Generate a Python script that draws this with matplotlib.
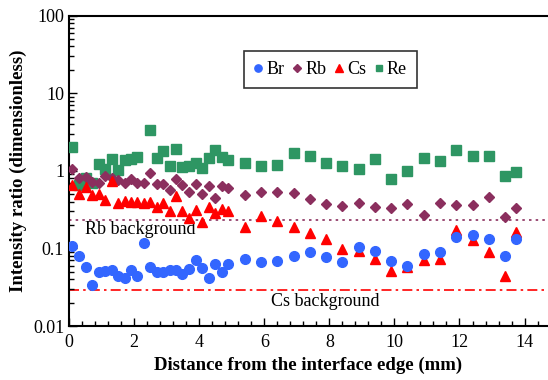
import matplotlib
matplotlib.use("Agg")
import matplotlib.pyplot as plt
from matplotlib.ticker import MultipleLocator, LogLocator, FixedLocator, FixedFormatter

plt.rcParams['font.family'] = ['Liberation Serif', 'DejaVu Serif']

# Distances (mm)
x_main = [0.1, 0.31, 0.51, 0.72, 0.92, 1.1, 1.31, 1.51, 1.72, 1.9, 2.1, 2.31, 2.48, 2.69, 2.89,
          3.1, 3.29, 3.48, 3.69, 3.9, 4.1, 4.3, 4.5, 4.7, 4.9,
          5.4, 5.9, 6.4, 6.9, 7.4, 7.9, 8.4, 8.9, 9.4, 9.9, 10.4, 10.9, 11.4, 11.9, 12.4, 12.9, 13.4, 13.75]
x_re = [0.1, 0.31, 0.51, 0.72, 0.92, 1.1, 1.31, 1.51, 1.72, 1.9, 2.1, 2.48, 2.69, 2.89,
        3.1, 3.29, 3.48, 3.69, 3.9, 4.1, 4.3, 4.5, 4.7, 4.9,
        5.4, 5.9, 6.4, 6.9, 7.4, 7.9, 8.4, 8.9, 9.4, 9.9, 10.4, 10.9, 11.4, 11.9, 12.4, 12.9, 13.4, 13.75]

br = [0.108, 0.080, 0.058, 0.034, 0.050, 0.051, 0.053, 0.0435, 0.042, 0.052, 0.044, 0.117, 0.058, 0.049, 0.049,
      0.053, 0.053, 0.0475, 0.054, 0.071, 0.056, 0.042, 0.063, 0.050, 0.063,
      0.074, 0.067, 0.068, 0.080, 0.091, 0.077, 0.066, 0.105, 0.093, 0.069, 0.060, 0.086, 0.091, 0.142, 0.150, 0.132, 0.079, 0.132]
rb = [1.06, 0.80, 0.82, 0.72, 0.69, 0.85, 0.80, 0.76, 0.69, 0.78, 0.69, 0.69, 0.94, 0.67, 0.68,
      0.57, 0.78, 0.66, 0.53, 0.67, 0.50, 0.63, 0.45, 0.63, 0.60,
      0.49, 0.53, 0.53, 0.52, 0.43, 0.375, 0.356, 0.386, 0.34, 0.335, 0.375, 0.27, 0.38, 0.36, 0.36, 0.456, 0.257, 0.335]
cs = [0.66, 0.50, 0.61, 0.49, 0.50, 0.42, 0.75, 0.386, 0.41, 0.40, 0.40, 0.386, 0.40, 0.346, 0.39,
      0.30, 0.48, 0.307, 0.25, 0.31, 0.217, 0.34, 0.29, 0.32, 0.307,
      0.19, 0.26, 0.228, 0.19, 0.158, 0.132, 0.098, 0.093, 0.074, 0.0515, 0.058, 0.071, 0.072, 0.173, 0.13, 0.09, 0.044, 0.161]
re = [2.02, 0.65, 0.80, 0.69, 1.23, 1.06, 1.43, 1.03, 1.36, 1.43, 1.52, 3.35, 1.47, 1.78,
      1.17, 1.92, 1.11, 1.17, 1.27, 1.09, 1.47, 1.83, 1.50, 1.39,
      1.27, 1.17, 1.19, 1.71, 1.54, 1.27, 1.17, 1.06, 1.43, 0.79, 0.98, 1.47, 1.33, 1.83, 1.56, 1.57, 0.85, 0.97]

rb_background = 0.23
cs_background = 0.029

fig = plt.figure(figsize=(5.48, 3.80), dpi=100)
ax = fig.add_axes([0.126, 0.142, 0.874, 0.817])

ax.axhline(rb_background, color='#8B2F5E', linestyle=(0, (1.5, 2.5)), linewidth=1.2, zorder=1)
ax.axhline(cs_background, color='#FF0000', linestyle=(0, (6, 2.5, 1.5, 2.5)), linewidth=1.2, zorder=1)

ax.plot(x_re, re, linestyle='none', marker='s', markersize=6.5, color='#2E9663', label='Re', zorder=3)
ax.plot(x_main, rb, linestyle='none', marker='D', markersize=5, color='#8B2F5E', label='Rb', zorder=4)
ax.plot(x_main, cs, linestyle='none', marker='^', markersize=7.5, color='#FF0000', label='Cs', zorder=5)
ax.plot(x_main, br, linestyle='none', marker='o', markersize=7, color='#3366FF', label='Br', zorder=6)

ax.set_yscale('log')
ax.set_ylim(0.01, 100)
ax.set_xlim(0, 14.72)
ax.xaxis.set_major_locator(MultipleLocator(2))
ax.xaxis.set_minor_locator(MultipleLocator(0.4))
ax.yaxis.set_major_locator(FixedLocator([0.01, 0.1, 1, 10, 100]))
ax.yaxis.set_major_formatter(FixedFormatter(['0.01', '0.1', '1', '10', '100']))
ax.yaxis.set_minor_locator(LogLocator(base=10, subs=range(2, 10)))

ax.tick_params(which='both', direction='in', top=False, right=False, labelsize=13, colors='black')
ax.tick_params(which='major', length=6, width=1)
ax.tick_params(which='minor', length=3.5, width=1)
ax.tick_params(axis='x', pad=6)
ax.spines['right'].set_visible(False)
for s in ['left', 'bottom', 'top']:
    ax.spines[s].set_linewidth(1.5)

ax.set_xlabel('Distance from the interface edge (mm)', fontsize=13.5, fontweight='bold', labelpad=4)
ax.set_ylabel('Intensity ratio (dimensionless)', fontsize=13.5, fontweight='bold', labelpad=4)

ax.text(2.18, 0.175, 'Rb background', fontsize=13, ha='center', va='center')
ax.text(7.88, 0.021, 'Cs background', fontsize=13, ha='center', va='center')

handles, labels = ax.get_legend_handles_labels()
order = [labels.index(n) for n in ['Br', 'Rb', 'Cs', 'Re']]
leg = ax.legend([handles[i] for i in order], [labels[i] for i in order], ncol=4,
                loc='upper left', bbox_to_anchor=(0.365, 0.886), borderaxespad=0, fontsize=13,
                frameon=True, fancybox=False, edgecolor='black', handlelength=0.5,
                handletextpad=0.2, columnspacing=0.45, markerscale=0.75, borderpad=0.55)
leg.get_frame().set_linewidth(1.2)

fig.savefig('out.png', dpi=100)
